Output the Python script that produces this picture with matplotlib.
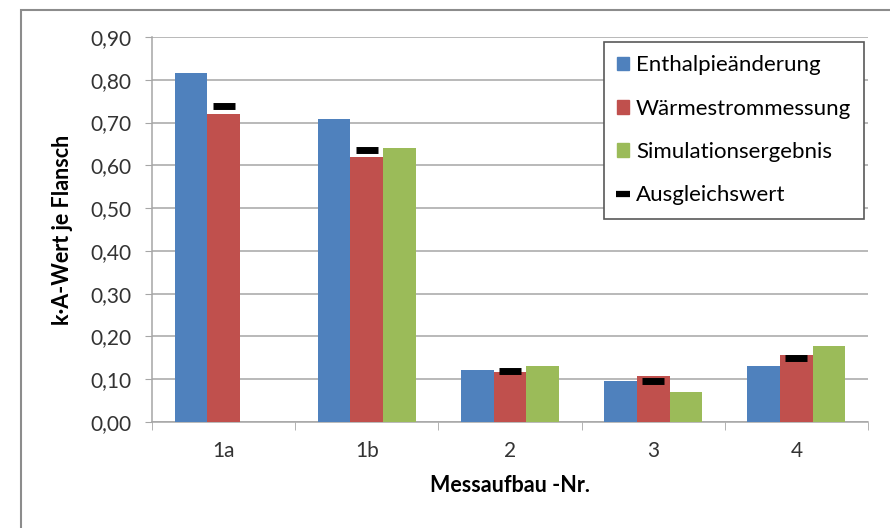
import matplotlib.pyplot as plt
import numpy as np
from matplotlib.patches import Rectangle, Patch
from matplotlib.lines import Line2D
from matplotlib.ticker import FixedLocator, FuncFormatter

plt.rcParams['font.family'] = ['Lato', 'DejaVu Sans']

# data
categories = ['1a', '1b', '2', '3', '4']
enthalpie = [0.816, 0.709, 0.121, 0.097, 0.130]
waermestrom = [0.720, 0.619, 0.116, 0.107, 0.157]
simulation = [np.nan, 0.640, 0.132, 0.069, 0.178]
ausgleich = [0.738, 0.637, 0.119, 0.097, 0.150]
labels = ['Enthalpieänderung', 'Wärmestrommessung', 'Simulationsergebnis', 'Ausgleichswert']

colors = ['#4F81BD', '#C0504D', '#9BBB59']
grey = '#A6A6A6'

fig = plt.figure(figsize=(8.9, 5.28), dpi=100)
# outer chart frame (Excel style)
fig.patches.append(Rectangle((21 / 890, -0.1), 1.2, (518 / 528) + 0.1,
                             transform=fig.transFigure, fill=False,
                             edgecolor='#8C8C8C', linewidth=1.5))

ax = fig.add_axes([152 / 890, 106 / 528, 716 / 890, 385 / 528])

x = np.arange(len(categories))
w = 0.228
ax.bar(x - w, enthalpie, w, color=colors[0], zorder=3)
ax.bar(x, waermestrom, w, color=colors[1], zorder=3)
ax.bar(x + w, simulation, w, color=colors[2], zorder=3)
ax.plot(x, ausgleich, linestyle='none', marker='_', markersize=16,
        markeredgewidth=5, color='black', zorder=4)

ax.set_xlim(-0.5, len(categories) - 0.5)
ax.set_ylim(0, 0.9)
ax.set_yticks(np.arange(0, 0.91, 0.1))
ax.yaxis.set_major_formatter(FuncFormatter(lambda v, p: f'{v:.2f}'.replace('.', ',')))
ax.set_xticks(x)
ax.set_xticklabels(categories)
ax.xaxis.set_minor_locator(FixedLocator(np.arange(-0.5, len(categories), 1.0)))
ax.tick_params(axis='x', which='major', length=0, pad=14, labelsize=15, colors='#333333')
ax.tick_params(axis='x', which='minor', length=6, color=grey, direction='out')
ax.tick_params(axis='y', length=5, color=grey, pad=10, labelsize=15, labelcolor='#333333')

ax.grid(axis='y', color=grey, linewidth=1.1, zorder=0)
for s in ['top', 'right']:
    ax.spines[s].set_visible(False)
for s in ['left', 'bottom']:
    ax.spines[s].set_color(grey)
    ax.spines[s].set_linewidth(1.1)

ax.set_ylabel('k·A-Wert je Flansch', fontsize=15.5, fontweight='bold', labelpad=12)
ax.set_xlabel('Messaufbau -Nr.', fontsize=15.5, fontweight='bold', labelpad=10)

handles = [Patch(color=c) for c in colors]
handles.append(Line2D([], [], linestyle='none', marker='_', markersize=10,
                      markeredgewidth=4.5, color='black'))
leg = ax.legend(handles, labels, loc='upper right', bbox_to_anchor=(0.995, 0.987),
                fontsize=16, frameon=True, fancybox=False, edgecolor='#595959',
                framealpha=1, handlelength=0.55, handleheight=0.55, handletextpad=0.3,
                labelspacing=1.05, borderpad=0.6, borderaxespad=0)
leg.get_frame().set_linewidth(1.2)
leg.set_zorder(5)

fig.savefig('out.png', dpi=100)
